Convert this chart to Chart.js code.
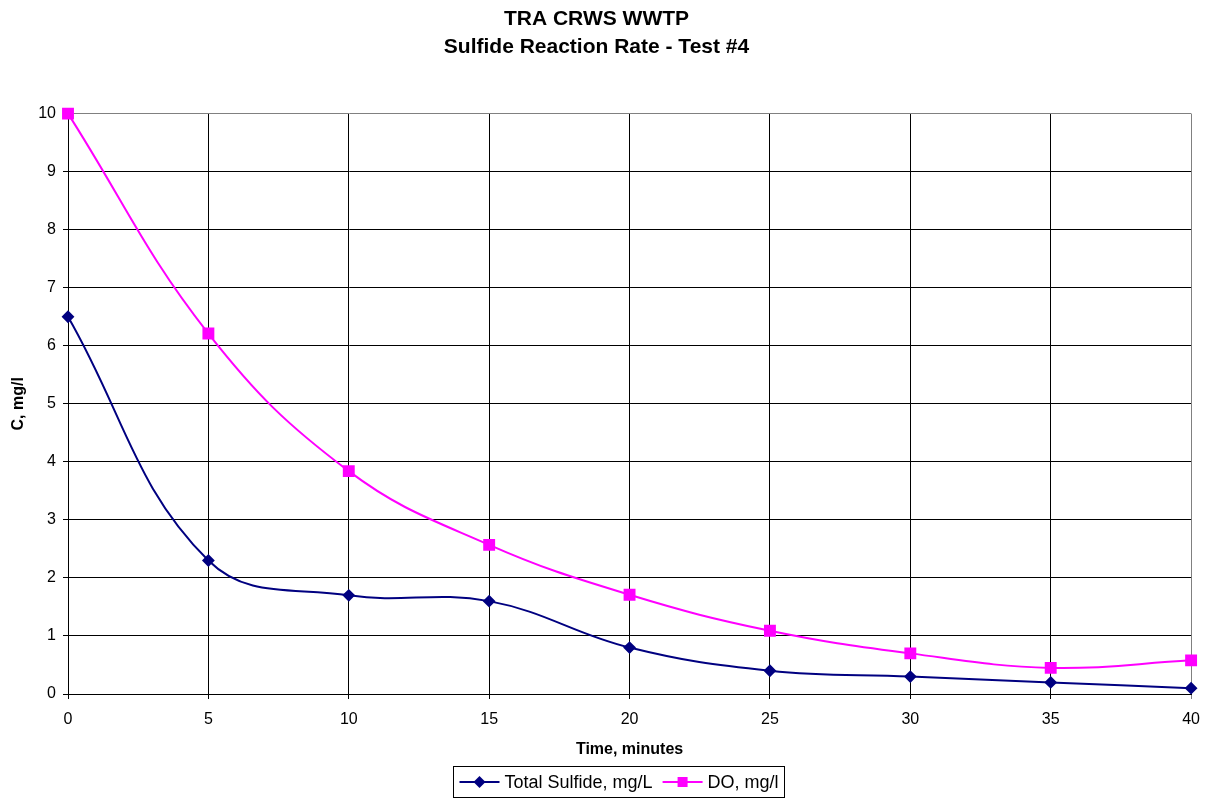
<!DOCTYPE html>
<html>
<head>
<meta charset="utf-8">
<script src="https://cdn.jsdelivr.net/npm/chart.js@4"></script>
<style>
  html, body { margin: 0; padding: 0; background: #fff; }
  #wrap { width: 1211px; height: 798px; }
</style>
</head>
<body>
<div id="wrap"><canvas id="grafico" width="1211" height="798"></canvas></div>
<script>
const tempos = [0, 5, 10, 15, 20, 25, 30, 35, 40]
const sulfetoTotal = [6.5, 2.3, 1.7, 1.6, 0.8, 0.4, 0.3, 0.2, 0.1]
const oxigenio = [10, 6.21, 3.84, 2.57, 1.71, 1.09, 0.7, 0.45, 0.58]
const nomesSeries = ['Total Sulfide, mg/L', 'DO, mg/l']
const titulo = ['TRA CRWS WWTP', 'Sulfide Reaction Rate - Test #4']
const FONTE = 'Arial, "Liberation Sans", sans-serif'

const pontos = (valores) => tempos.map((t, i) => ({ x: t, y: valores[i] }))

// legenda com moldura, desenhada a mao (o Chart.js nao faz a linha com marcador)
const legendaComMoldura = {
	id: 'legendaComMoldura',
	afterDraw(chart) {
		const ctx = chart.ctx
		const sets = chart.data.datasets
		ctx.save()
		ctx.font = '18px ' + FONTE
		const tamLinha = 40, gap = 5, entre = 10, pad = 6
		let largura = pad * 2
		sets.forEach((d, i) => {
			largura += tamLinha + gap + ctx.measureText(d.label).width
			if (i < sets.length - 1) largura += entre
		})
		const centroX = 619, topo = 766, altura = 31
		let x = Math.round(centroX - largura / 2) + 0.5
		ctx.strokeStyle = '#000'
		ctx.lineWidth = 1
		ctx.strokeRect(x, topo + 0.5, Math.round(largura), altura)
		const cy = topo + altura / 2 + 0.5
		x += pad
		sets.forEach((d) => {
			ctx.strokeStyle = d.borderColor
			ctx.lineWidth = 2
			ctx.beginPath()
			ctx.moveTo(x, cy)
			ctx.lineTo(x + tamLinha, cy)
			ctx.stroke()
			ctx.fillStyle = d.pointBackgroundColor
			const mx = x + tamLinha / 2
			ctx.beginPath()
			if (d.pointStyle === 'rectRot') {
				ctx.moveTo(mx, cy - 6); ctx.lineTo(mx + 6, cy); ctx.lineTo(mx, cy + 6); ctx.lineTo(mx - 6, cy)
			} else {
				ctx.rect(mx - 5, cy - 5, 10, 10)
			}
			ctx.closePath()
			ctx.fill()
			x += tamLinha + gap
			ctx.fillStyle = '#000'
			ctx.textBaseline = 'middle'
			ctx.fillText(d.label, x, cy + 1)
			x += ctx.measureText(d.label).width + entre
		})
		ctx.restore()
	}
}

const corGrade = (ctx, max) => (ctx.tick && ctx.tick.value === max ? '#808080' : '#000')

const chart = new Chart(document.getElementById('grafico'), {
	type: 'line',
	data: {
		datasets: [
			{
				label: nomesSeries[0],
				data: pontos(sulfetoTotal),
				borderColor: '#000080',
				backgroundColor: '#000080',
				pointBackgroundColor: '#000080',
				pointBorderColor: '#000080',
				pointStyle: 'rectRot',
				pointRadius: 5,
				borderWidth: 2,
				tension: 0.4,
				clip: false,
				fill: false
			},
			{
				label: nomesSeries[1],
				data: pontos(oxigenio),
				borderColor: '#FF00FF',
				backgroundColor: '#FF00FF',
				pointBackgroundColor: '#FF00FF',
				pointBorderColor: '#FF00FF',
				pointStyle: 'rect',
				pointRadius: 7,
				borderWidth: 2,
				tension: 0.4,
				clip: false,
				fill: false
			}
		]
	},
	options: {
		responsive: false,
		animation: false,
		layout: { padding: { left: 0, right: 18, top: 0, bottom: 0 } },
		plugins: {
			legend: { display: false },
			tooltip: { enabled: false },
			title: {
				display: true,
				text: titulo,
				color: '#000',
				font: { family: FONTE, size: 21, weight: 'bold', lineHeight: 1.3 },
				padding: { top: 6, bottom: 53 }
			}
		},
		scales: {
			x: {
				type: 'linear',
				min: 0,
				max: 40,
				ticks: { stepSize: 5, color: '#000', font: { family: FONTE, size: 16 }, padding: 11, maxRotation: 0 },
				grid: { color: (c) => corGrade(c, 40), lineWidth: 1, tickLength: 5 },
				border: { color: '#000', width: 1 },
				title: {
					display: true,
					text: 'Time, minutes',
					color: '#000',
					font: { family: FONTE, size: 16, weight: 'bold' },
					padding: { top: 4, bottom: 39 }
				},
				afterFit: (s) => { s.height = 104 }
			},
			y: {
				min: 0,
				max: 10,
				ticks: { stepSize: 1, color: '#000', font: { family: FONTE, size: 16 }, padding: 7 },
				grid: { color: (c) => corGrade(c, 10), lineWidth: 1, tickLength: 5 },
				border: { color: '#000', width: 1 },
				title: {
					display: true,
					text: 'C, mg/l',
					color: '#000',
					font: { family: FONTE, size: 16, weight: 'bold' },
					padding: { top: 9, bottom: 4 }
				},
				afterFit: (s) => { s.width = 68 }
			}
		}
	},
	plugins: [legendaComMoldura]
});
</script>
</body>
</html>
